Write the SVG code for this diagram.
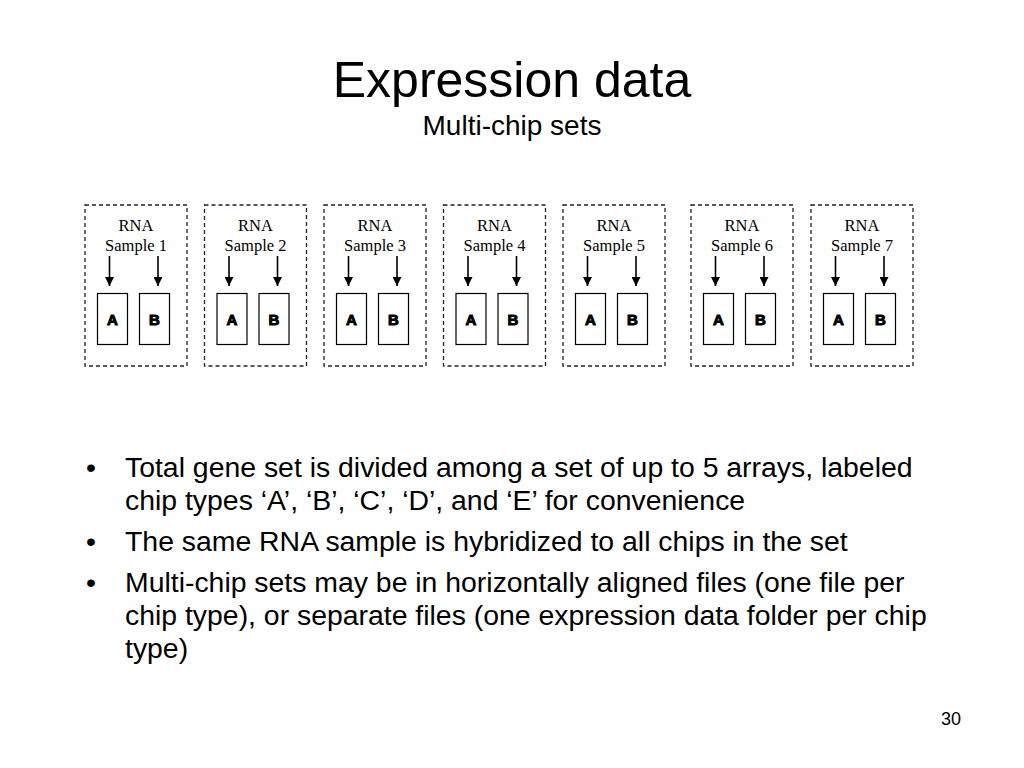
<svg xmlns="http://www.w3.org/2000/svg" width="1024" height="768" viewBox="0 0 1024 768">
<style>
.title{font-family:"Liberation Sans",Arial,sans-serif;font-size:50px;fill:#000}
.sub{font-family:"Liberation Sans",Arial,sans-serif;font-size:28px;fill:#000}
.body{font-family:"Liberation Sans",Arial,sans-serif;font-size:28.4px;fill:#000}
.pg{font-family:"Liberation Sans",Arial,sans-serif;font-size:18px;fill:#000}
.lbl{font-family:"Liberation Serif","Times New Roman",serif;font-size:16.5px;fill:#000;text-anchor:middle}
.chipt{font-family:"Liberation Sans",Arial,sans-serif;font-size:15px;font-weight:bold;fill:#000;stroke:#000;stroke-width:1;text-anchor:middle}
.frame{fill:none;stroke:#222;stroke-width:1.3;stroke-dasharray:4 3}
.chip{fill:#fff;stroke:#000;stroke-width:1.2}
.arr{stroke:#000;stroke-width:1.6;fill:none;marker-end:url(#ah)}
</style>
<defs>
<marker id="ah" viewBox="0 0 10 10" refX="10" refY="5" markerWidth="10" markerHeight="9" markerUnits="userSpaceOnUse" orient="auto">
<path d="M0,0 L10,5 L0,10 z" fill="#000"/>
</marker>
<g id="box">
<rect class="frame" x="0" y="0" width="102" height="161"/>
<rect class="chip" x="12.5" y="88.5" width="30" height="51"/>
<rect class="chip" x="54.5" y="88.5" width="30" height="51"/>
<text class="chipt" x="27.5" y="119.5">A</text>
<text class="chipt" x="69.5" y="119.5">B</text>
</g>
</defs>
<rect width="1024" height="768" fill="#fff"/>
<text class="title" x="512" y="97" text-anchor="middle">Expression data</text>
<text class="sub" x="512" y="135" text-anchor="middle">Multi-chip sets</text>

<g id="sample1" transform="translate(85,205)"><use href="#box"/><text class="lbl" x="51" y="26">RNA</text><text class="lbl" x="51" y="46">Sample 1</text></g>
<g id="sample2" transform="translate(204.5,205)"><use href="#box"/><text class="lbl" x="51" y="26">RNA</text><text class="lbl" x="51" y="46">Sample 2</text></g>
<g id="sample3" transform="translate(324,205)"><use href="#box"/><text class="lbl" x="51" y="26">RNA</text><text class="lbl" x="51" y="46">Sample 3</text></g>
<g id="sample4" transform="translate(443.5,205)"><use href="#box"/><text class="lbl" x="51" y="26">RNA</text><text class="lbl" x="51" y="46">Sample 4</text></g>
<g id="sample5" transform="translate(563,205)"><use href="#box"/><text class="lbl" x="51" y="26">RNA</text><text class="lbl" x="51" y="46">Sample 5</text></g>
<g id="sample6" transform="translate(691,205)"><use href="#box"/><text class="lbl" x="51" y="26">RNA</text><text class="lbl" x="51" y="46">Sample 6</text></g>
<g id="sample7" transform="translate(811,205)"><use href="#box"/><text class="lbl" x="51" y="26">RNA</text><text class="lbl" x="51" y="46">Sample 7</text></g>

<g id="connectors">
<line class="arr" x1="109.5" y1="256" x2="109.5" y2="286"/><line class="arr" x1="158" y1="256" x2="158" y2="286"/>
<line class="arr" x1="229" y1="256" x2="229" y2="286"/><line class="arr" x1="277.5" y1="256" x2="277.5" y2="286"/>
<line class="arr" x1="348.5" y1="256" x2="348.5" y2="286"/><line class="arr" x1="397" y1="256" x2="397" y2="286"/>
<line class="arr" x1="468" y1="256" x2="468" y2="286"/><line class="arr" x1="516.5" y1="256" x2="516.5" y2="286"/>
<line class="arr" x1="587.5" y1="256" x2="587.5" y2="286"/><line class="arr" x1="636" y1="256" x2="636" y2="286"/>
<line class="arr" x1="715.5" y1="256" x2="715.5" y2="286"/><line class="arr" x1="764" y1="256" x2="764" y2="286"/>
<line class="arr" x1="835.5" y1="256" x2="835.5" y2="286"/><line class="arr" x1="884" y1="256" x2="884" y2="286"/>
</g>

<g id="bullets">
<text class="body" x="86" y="477">•</text>
<text class="body" x="125" y="477">Total gene set is divided among a set of up to 5 arrays, labeled</text>
<text class="body" x="125" y="510">chip types ‘A’, ‘B’, ‘C’, ‘D’, and ‘E’ for convenience</text>
<text class="body" x="86" y="551">•</text>
<text class="body" x="125" y="551">The same RNA sample is hybridized to all chips in the set</text>
<text class="body" x="86" y="592">•</text>
<text class="body" x="125" y="592">Multi-chip sets may be in horizontally aligned files (one file per</text>
<text class="body" x="125" y="625">chip type), or separate files (one expression data folder per chip</text>
<text class="body" x="125" y="658">type)</text>
</g>
<text class="pg" x="961" y="725" text-anchor="end">30</text>
</svg>
